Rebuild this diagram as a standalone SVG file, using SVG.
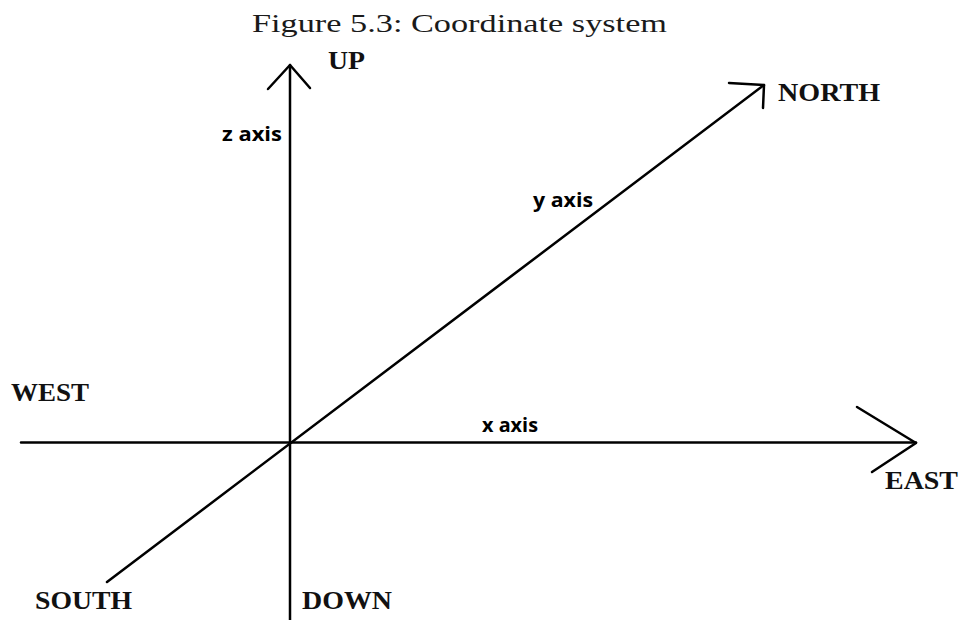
<svg xmlns="http://www.w3.org/2000/svg" width="962" height="620" viewBox="0 0 962 620">
<style>
.title{font-family:"Liberation Serif",serif;font-size:26px;fill:#1a1a1a}
.dir{font-family:"Liberation Serif",serif;font-weight:bold;font-size:25px;fill:#111}
.ax{font-family:"Open Sans","Liberation Sans",sans-serif;font-weight:bold;font-size:19px;fill:#000}
.ln{stroke:#000;stroke-width:2.5;fill:none;stroke-linecap:round;stroke-linejoin:round}
</style>
<rect width="962" height="620" fill="#fff"/>
<text id="title" class="title" x="252" y="32" textLength="415" lengthAdjust="spacingAndGlyphs">Figure 5.3: Coordinate system</text>
<g id="connectors">
<line class="ln" x1="290" y1="65" x2="290" y2="620"/>
<polyline class="ln" points="268,89 290,65 310,88"/>
<line class="ln" x1="21" y1="442.5" x2="916" y2="442.5"/>
<polyline class="ln" points="857,407 916,443 872,472"/>
<line class="ln" x1="107" y1="582" x2="764" y2="85"/>
<polyline class="ln" points="729,83 764,85 763,108"/>
</g>
<g id="up"><text class="dir" x="328" y="69" textLength="37" lengthAdjust="spacingAndGlyphs">UP</text></g>
<g id="north"><text class="dir" x="778" y="101" textLength="102" lengthAdjust="spacingAndGlyphs">NORTH</text></g>
<g id="west"><text class="dir" x="11" y="401" textLength="78" lengthAdjust="spacingAndGlyphs">WEST</text></g>
<g id="east"><text class="dir" x="885" y="489" textLength="73" lengthAdjust="spacingAndGlyphs">EAST</text></g>
<g id="south"><text class="dir" x="35" y="609" textLength="97" lengthAdjust="spacingAndGlyphs">SOUTH</text></g>
<g id="down"><text class="dir" x="302" y="609" textLength="90" lengthAdjust="spacingAndGlyphs">DOWN</text></g>
<g id="zaxis"><text class="ax" x="222" y="141" textLength="60" lengthAdjust="spacingAndGlyphs">z axis</text></g>
<g id="yaxis"><text class="ax" x="533" y="207" textLength="60" lengthAdjust="spacingAndGlyphs">y axis</text></g>
<g id="xaxis"><text class="ax" x="482" y="432" textLength="56" lengthAdjust="spacingAndGlyphs">x axis</text></g>
</svg>
